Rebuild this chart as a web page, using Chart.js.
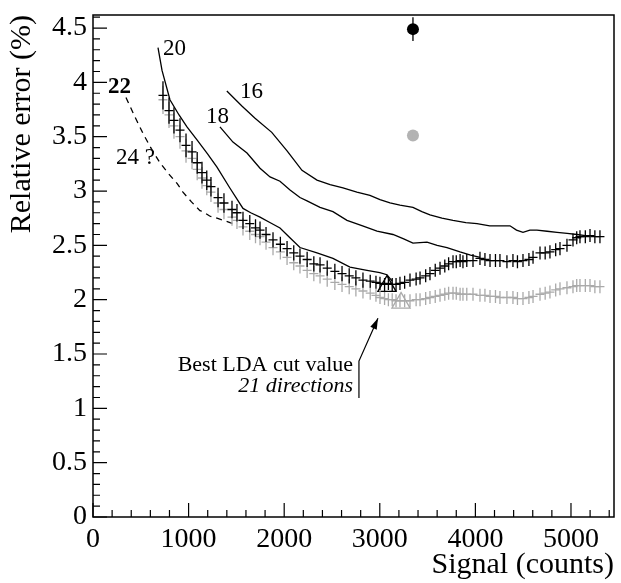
<!DOCTYPE html>
<html>
<head>
<meta charset="utf-8">
<script src="https://cdn.jsdelivr.net/npm/chart.js@4.4.1/dist/chart.umd.min.js"></script>
<style>
  body { margin: 0; background: white; }
</style>
</head>
<body>
<canvas id="chart" width="621" height="583"></canvas>
<script>
// signal (counts) for every LDA cut value, 22 directions
var signal = [732, 795, 847, 910, 973, 1036, 1090, 1140, 1190, 1234,
  1308, 1370, 1454, 1506, 1569, 1640, 1700, 1747, 1810, 1883,
  1960, 2030, 2100, 2165, 2240, 2310, 2375, 2450, 2530, 2605,
  2680, 2750, 2824, 2900, 2960, 3002, 3050, 3090, 3130, 3170,
  3211, 3260, 3316, 3380, 3421, 3480, 3525, 3580, 3630, 3680,
  3720, 3766, 3800, 3840, 3870, 3910, 3975, 4048, 4100, 4153,
  4210, 4257, 4330, 4393, 4440, 4498, 4560, 4603, 4676, 4730,
  4780, 4840, 4885, 4958, 5021, 5060, 5094, 5150, 5199, 5250, 5303];

// relative error (%) black crosses
var relErr22 = [3.88, 3.74, 3.65, 3.56, 3.42, 3.36, 3.26, 3.17, 3.10, 3.04,
  2.94, 2.89, 2.83, 2.80, 2.73, 2.70, 2.66, 2.64, 2.60, 2.55,
  2.51, 2.47, 2.43, 2.40, 2.37, 2.33, 2.32, 2.29, 2.26, 2.24,
  2.22, 2.20, 2.18, 2.17, 2.16, 2.15, 2.14, 2.15, 2.14, 2.14,
  2.15, 2.16, 2.18, 2.19, 2.20, 2.22, 2.24, 2.27, 2.29, 2.31,
  2.33, 2.35, 2.35, 2.36, 2.35, 2.36, 2.36, 2.38, 2.37, 2.36,
  2.36, 2.36, 2.35, 2.36, 2.35, 2.36, 2.37, 2.39, 2.43, 2.43,
  2.44, 2.46, 2.47, 2.50, 2.55, 2.57, 2.58, 2.58, 2.59, 2.58, 2.58];

// relative error (%) grey crosses
var relErr22grey = [3.84, 3.70, 3.60, 3.50, 3.37, 3.30, 3.20, 3.12, 3.05, 2.99,
  2.89, 2.83, 2.76, 2.73, 2.67, 2.63, 2.60, 2.58, 2.53, 2.48,
  2.44, 2.39, 2.34, 2.31, 2.27, 2.24, 2.22, 2.19, 2.16, 2.14,
  2.12, 2.10, 2.08, 2.06, 2.04, 2.02, 2.01, 2.00, 2.00, 1.99,
  1.99, 1.99, 1.99, 2.00, 2.00, 2.01, 2.02, 2.03, 2.04, 2.05,
  2.06, 2.06, 2.06, 2.05, 2.05, 2.05, 2.05, 2.04, 2.04, 2.03,
  2.03, 2.02, 2.02, 2.02, 2.01, 2.01, 2.02, 2.03, 2.05, 2.06,
  2.07, 2.09, 2.10, 2.11, 2.12, 2.13, 2.13, 2.13, 2.13, 2.12, 2.12];

// error bar half length for the crosses
var errBars = [0.13, 0.12, 0.12, 0.11, 0.11, 0.10, 0.10, 0.10, 0.09, 0.09,
  0.09, 0.09, 0.08, 0.08, 0.08, 0.08, 0.08, 0.08, 0.07, 0.07,
  0.07, 0.07, 0.07, 0.07, 0.07, 0.07, 0.07, 0.07, 0.07, 0.07,
  0.07, 0.07, 0.07, 0.06, 0.06, 0.06, 0.06, 0.06, 0.06, 0.06,
  0.06, 0.06, 0.06, 0.06, 0.06, 0.06, 0.06, 0.06, 0.06, 0.06,
  0.06, 0.06, 0.06, 0.06, 0.06, 0.06, 0.06, 0.06, 0.06, 0.06,
  0.06, 0.06, 0.06, 0.06, 0.06, 0.06, 0.06, 0.06, 0.06, 0.06,
  0.06, 0.06, 0.06, 0.06, 0.06, 0.06, 0.06, 0.06, 0.06, 0.06, 0.06];

// 16 directions
var signal16 = [1400, 1560, 1695, 1870, 2030, 2186, 2343, 2480, 2615, 2760, 2897, 3002, 3107, 3211, 3347,
  3440, 3525, 3650, 3766, 3900, 4017, 4150, 4250, 4362, 4430, 4498, 4570, 4644, 4750, 4854, 4960, 5063, 5150, 5200];
var relErr16 = [3.92, 3.78, 3.67, 3.54, 3.37, 3.19, 3.10, 3.06, 3.03, 2.99, 2.96, 2.92, 2.89, 2.87, 2.85,
  2.81, 2.78, 2.75, 2.73, 2.71, 2.70, 2.68, 2.68, 2.68, 2.64, 2.62, 2.64, 2.64, 2.63, 2.62, 2.61, 2.60, 2.59, 2.59];

// 18 directions
var signal18 = [1328, 1464, 1611, 1747, 1852, 1956, 2061, 2165, 2239, 2375, 2510, 2657, 2820, 2971, 3138,
  3250, 3347, 3494, 3600, 3703, 3839, 3950, 4050];
var relErr18 = [3.59, 3.45, 3.35, 3.21, 3.13, 3.09, 3.01, 2.94, 2.91, 2.85, 2.81, 2.73, 2.68, 2.63, 2.60,
  2.56, 2.52, 2.53, 2.50, 2.48, 2.44, 2.41, 2.39];

// 20 directions
var signal20 = [680, 722, 805, 900, 983, 1088, 1200, 1297, 1430, 1569, 1650, 1747, 1850, 1956, 2060,
  2165, 2343, 2510, 2688, 2866, 3000, 3075, 3130];
var relErr20 = [4.32, 4.11, 3.84, 3.70, 3.59, 3.47, 3.34, 3.22, 3.03, 2.84, 2.80, 2.76, 2.71, 2.66, 2.57,
  2.48, 2.43, 2.38, 2.30, 2.27, 2.25, 2.23, 2.17];

// 24 directions (dashed, uncertain)
var signal24 = [345, 440, 523, 610, 700, 790, 879, 941, 1030, 1119, 1150, 1220, 1297, 1433, 1470];
var relErr24 = [3.86, 3.68, 3.53, 3.39, 3.26, 3.16, 3.07, 2.99, 2.90, 2.82, 2.81, 2.77, 2.75, 2.71, 2.70];

// best cut markers (triangles) and the two single points at the top
var bestSignal = [3075, 3222];
var bestErr = [2.125, 1.97];
var dotSignal = [3347, 3347];
var dotErr = [4.49, 3.51];
var dotErrBars = [0.11, 0.03];

var xTicks = [0, 1000, 2000, 3000, 4000, 5000];
var yTicks = [0, 0.5, 1, 1.5, 2, 2.5, 3, 3.5, 4, 4.5];

var GREY = '#aaaaaa';
var FONT = 'Liberation Serif';

function toPoints(xs, ys) {
  var pts = [];
  for (var i = 0; i < xs.length; i++) {
    pts.push({x: xs[i], y: ys[i]});
  }
  return pts;
}

function lineSet(xs, ys, dash) {
  return {
    data: toPoints(xs, ys),
    showLine: true,
    borderColor: 'black',
    borderWidth: 1.3,
    borderDash: dash || [],
    pointRadius: 0,
    tension: 0
  };
}

// no extra room for tick labels, the frame has to sit where it sits
function noPad(scale) {
  scale.paddingTop = 0;
  scale.paddingBottom = 0;
  scale.paddingLeft = 0;
  scale.paddingRight = 0;
}

// draws the crosses / error bars, inward ticks, frame and the text notes
var extras = {
  id: 'extras',
  afterDatasetsDraw: function(chart) {
    var ctx = chart.ctx;
    var xs = chart.scales.x, ys = chart.scales.y;
    var area = chart.chartArea;

    ctx.save();
    ctx.lineWidth = 1.3;
    chart.data.datasets.forEach(function(ds, di) {
      if (!ds.yErr) return;
      var meta = chart.getDatasetMeta(di);
      meta.data.forEach(function(el, i) {
        var v = ds.data[i].y;
        var top = ys.getPixelForValue(v + ds.yErr[i]);
        var bot = ys.getPixelForValue(v - ds.yErr[i]);
        ctx.strokeStyle = Array.isArray(ds.crossColor) ? ds.crossColor[i] : ds.crossColor;
        ctx.beginPath();
        ctx.moveTo(el.x, top);
        ctx.lineTo(el.x, bot);
        if (ds.armWidth) {
          ctx.moveTo(el.x - ds.armWidth, el.y);
          ctx.lineTo(el.x + ds.armWidth, el.y);
        }
        ctx.stroke();
      });
    });

    // frame
    ctx.strokeStyle = 'black';
    ctx.lineWidth = 1.5;
    ctx.strokeRect(area.left, area.top, area.right - area.left, area.bottom - area.top);

    // ticks pointing into the plot
    ctx.lineWidth = 1.2;
    ctx.beginPath();
    for (var i = 0; i * 200 <= xs.max; i++) {
      var px = xs.getPixelForValue(i * 200);
      var len = (i % 5 === 0) ? 14 : 7;
      ctx.moveTo(px, area.bottom);
      ctx.lineTo(px, area.bottom - len);
    }
    for (var j = 0; j / 10 <= ys.max; j++) {
      var py = ys.getPixelForValue(j / 10);
      var l = (j % 5 === 0) ? 14 : 7;
      ctx.moveTo(area.left, py);
      ctx.lineTo(area.left + l, py);
    }
    ctx.stroke();

    // curve labels
    ctx.fillStyle = 'black';
    ctx.textBaseline = 'middle';
    ctx.textAlign = 'left';
    ctx.font = '23px "' + FONT + '"';
    ctx.fillText('20', xs.getPixelForValue(732), ys.getPixelForValue(4.31));
    ctx.fillText('16', xs.getPixelForValue(1538), ys.getPixelForValue(3.91));
    ctx.fillText('18', xs.getPixelForValue(1182), ys.getPixelForValue(3.68));
    ctx.fillText('24 ?', xs.getPixelForValue(241), ys.getPixelForValue(3.30));
    ctx.font = 'bold 23px "' + FONT + '"';
    ctx.fillText('22', xs.getPixelForValue(157), ys.getPixelForValue(3.96));

    // "best cut" note with arrow
    ctx.textAlign = 'right';
    ctx.font = '22px "' + FONT + '"';
    ctx.fillText('Best LDA cut value', xs.getPixelForValue(2720), ys.getPixelForValue(1.40));
    ctx.font = 'italic 22px "' + FONT + '"';
    ctx.fillText('21 directions', xs.getPixelForValue(2720), ys.getPixelForValue(1.20));

    var bx = xs.getPixelForValue(2782);
    var by0 = ys.getPixelForValue(1.095), by1 = ys.getPixelForValue(1.435);
    var tx = xs.getPixelForValue(2981), ty = ys.getPixelForValue(1.83);
    ctx.lineWidth = 1.2;
    ctx.beginPath();
    ctx.moveTo(bx, by0);
    ctx.lineTo(bx, by1);
    ctx.lineTo(tx, ty);
    ctx.stroke();
    var ang = Math.atan2(ty - by1, tx - bx);
    ctx.beginPath();
    ctx.moveTo(tx, ty);
    ctx.lineTo(tx - 11 * Math.cos(ang) + 3.5 * Math.sin(ang), ty - 11 * Math.sin(ang) - 3.5 * Math.cos(ang));
    ctx.lineTo(tx - 11 * Math.cos(ang) - 3.5 * Math.sin(ang), ty - 11 * Math.sin(ang) + 3.5 * Math.cos(ang));
    ctx.closePath();
    ctx.fill();
    ctx.restore();
  }
};

var ctx = document.getElementById('chart').getContext('2d');
var chart = new Chart(ctx, {
  type: 'scatter',
  data: {
    datasets: [
      lineSet(signal16, relErr16),
      lineSet(signal18, relErr18),
      lineSet(signal20, relErr20),
      lineSet(signal24, relErr24, [6, 5]),
      {
        data: toPoints(signal, relErr22grey),
        pointRadius: 0,
        yErr: errBars,
        armWidth: 4.5,
        crossColor: GREY
      },
      {
        data: toPoints(signal, relErr22),
        pointRadius: 0,
        yErr: errBars,
        armWidth: 4.5,
        crossColor: 'black'
      },
      {
        data: toPoints(bestSignal, bestErr),
        pointStyle: 'triangle',
        pointRadius: 10.5,
        backgroundColor: 'rgba(0,0,0,0)',
        pointBorderColor: ['black', GREY],
        pointBorderWidth: 1.3
      },
      {
        data: toPoints(dotSignal, dotErr),
        pointStyle: 'circle',
        pointRadius: 6,
        pointBackgroundColor: ['black', '#b3b3b3'],
        pointBorderWidth: 0,
        yErr: dotErrBars,
        crossColor: ['black', '#b3b3b3']
      }
    ]
  },
  options: {
    responsive: false,
    animation: false,
    devicePixelRatio: 1,
    layout: { autoPadding: false, padding: { left: 0, right: 7, top: 15, bottom: 0 } },
    plugins: {
      legend: { display: false },
      tooltip: { enabled: false }
    },
    scales: {
      x: {
        type: 'linear',
        min: 0,
        max: 5450,
        afterFit: function(scale) { scale.height = 66; noPad(scale); },
        afterBuildTicks: function(scale) { scale.ticks = xTicks.map(function(v) { return {value: v}; }); },
        grid: { display: false, drawTicks: false },
        border: { display: false },
        ticks: {
          padding: 6,
          color: 'black',
          font: { family: FONT, size: 28 },
          maxRotation: 0,
          callback: function(v) { return String(v); }
        },
        title: {
          display: true,
          text: 'Signal (counts)',
          align: 'end',
          color: 'black',
          font: { family: FONT, size: 30 },
          padding: 0
        }
      },
      y: {
        type: 'linear',
        min: 0,
        max: 4.62,
        afterFit: function(scale) { scale.width = 93; noPad(scale); },
        afterBuildTicks: function(scale) { scale.ticks = yTicks.map(function(v) { return {value: v}; }); },
        grid: { display: false, drawTicks: false },
        border: { display: false },
        ticks: {
          padding: 6,
          color: 'black',
          font: { family: FONT, size: 28 },
          callback: function(v) { return String(v); }
        },
        title: {
          display: true,
          text: 'Relative error (%)',
          align: 'end',
          color: 'black',
          font: { family: FONT, size: 30 },
          padding: 4
        }
      }
    }
  },
  plugins: [extras]
});
</script>
</body>
</html>
